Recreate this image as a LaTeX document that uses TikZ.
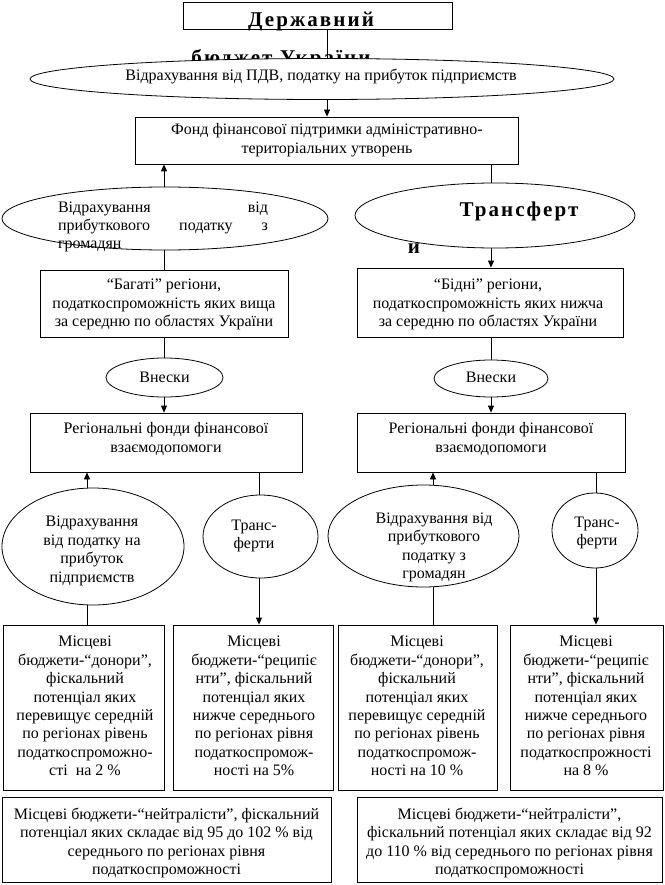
\documentclass[tikz,border=0pt]{standalone}
\usepackage{fontspec}
\setmainfont{Liberation Serif}
\newfontfamily\bigfont{Liberation Serif}[LetterSpace=10]
\usetikzlibrary{shapes.geometric,arrows.meta}
\tikzset{
  box/.style={draw, rectangle, inner sep=0pt, line width=0.8pt},
  oval/.style={draw, ellipse, inner sep=0pt, line width=0.8pt},
  txt/.style={inner sep=0pt, align=center, font=\fontsize{16}{18.4}\selectfont},
  big/.style={inner sep=0pt, font=\bigfont\fontsize{21}{24}\selectfont\bfseries},
  arr/.style={-{Triangle[length=7pt,width=6pt]}, line width=0.8pt},
  ln/.style={line width=0.8pt},
}
\begin{document}
\begin{tikzpicture}[x=1pt,y=-1pt]
\useasboundingbox (0,0) rectangle (664,885);
% top
\node[box, minimum width=269, minimum height=27] (tb) at (317.5,15.5) {};
\node[big, anchor=base] (tbt) at (311,27) {Державний};
\node[big, anchor=base] (tbt2) at (281,65) {бюджет України};
\node[oval, fill=white, minimum width=584, minimum height=41] (bigell) at (322,79) {};
\node[txt] (bigellt) at (321,77) {Відрахування від ПДВ, податку на прибуток підприємств};
\node[box, minimum width=383, minimum height=47] (fond) at (327,140.5) {};
\node[txt] (fondt) at (327,140) {Фонд фінансової підтримки адміністративно-\\територіальних утворень};
% second level
\node[txt, align=left, text width=210] (lelt) at (163,227) {Відрахування\hfill від\\прибуткового\hfill податку\hfill з\\громадян};
\node[oval, minimum width=326, minimum height=63] (lel) at (165,218.5) {};
\node[oval, minimum width=280, minimum height=65] (rel) at (495,215.5) {};
\node[big, anchor=base] (relt) at (519,217) {Трансферт};
\node[big, anchor=base] (relt2) at (414,253) {и};
\node[box, minimum width=248, minimum height=67] (bag) at (164,303.5) {};
\node[txt] (bagt) at (164,304.5) {“Багаті” регіони,\\податкоспроможність яких вища\\за середню по областях України};
\node[box, minimum width=266, minimum height=69] (bid) at (490,302.5) {};
\node[txt] (bidt) at (488,304.5) {“Бідні” регіони,\\податкоспроможність яких нижча\\за середню по областях України};
\node[oval, minimum width=117, minimum height=39] (vl) at (164.5,377.5) {};
\node[txt] (vlt) at (164.5,377) {Внески};
\node[oval, minimum width=114, minimum height=37] (vr) at (491,378.5) {};
\node[txt] (vrt) at (491,377) {Внески};
\node[box, minimum width=272, minimum height=59] (rgl) at (166,442.5) {};
\node[txt] (rglt) at (166,439) {Регіональні фонди фінансової\\взаємодопомоги};
\node[box, minimum width=268, minimum height=59] (rgr) at (491,442.5) {};
\node[txt] (rgrt) at (491,439) {Регіональні фонди фінансової\\взаємодопомоги};
% third level
\node[oval, minimum width=182, minimum height=117] (ebl) at (93,546.5) {};
\node[txt] (eblt) at (92,551) {Відрахування\\від податку на\\прибуток\\підприємств};
\node[oval, minimum width=115, minimum height=83] (trl) at (260.5,536.5) {};
\node[txt] (trlt) at (254,536) {Транс-\\ферти};
\node[oval, minimum width=191, minimum height=102] (ebr) at (423.5,536) {};
\node[txt] (ebrt) at (434,547.5) {Відрахування від\\прибуткового\\податку з\\громадян};
\node[oval, minimum width=86, minimum height=75] (trr) at (595,530.5) {};
\node[txt] (trrt) at (597,533) {Транс-\\ферти};
% bottom boxes
\node[box, minimum width=161, minimum height=165] (b1) at (83.5,707.5) {};
\node[txt] (b1t) at (85,706) {Місцеві\\бюджети-“донори”,\\фіскальний\\потенціал яких\\перевищує середній\\по регіонах рівень\\податкоспроможно-\\сті\ \ на 2 \%};
\node[box, minimum width=160, minimum height=165] (b2) at (253,707.5) {};
\node[txt] (b2t) at (254,706) {Місцеві\\бюджети-“реципіє\\нти”, фіскальний\\потенціал яких\\нижче середнього\\по регіонах рівня\\податкоспромож-\\ності на 5\%};
\node[box, minimum width=159, minimum height=165] (b3) at (417.5,707.5) {};
\node[txt] (b3t) at (417,706) {Місцеві\\бюджети-“донори”,\\фіскальний\\потенціал яких\\перевищує середній\\по регіонах рівень\\податкоспромож-\\ності на 10 \%};
\node[box, minimum width=153, minimum height=165] (b4) at (586.5,707.5) {};
\node[txt] (b4t) at (586,706) {Місцеві\\бюджети-“реципіє\\нти”, фіскальний\\потенціал яких\\нижче середнього\\по регіонах рівня\\податкоспрожності\\на 8 \%};
\node[box, minimum width=329, minimum height=85] (nl) at (166.5,839.5) {};
\node[txt] (nlt) at (166.5,843) {Місцеві бюджети-“нейтралісти”, фіскальний\\потенціал яких складає від 95 до 102 \% від\\середнього по регіонах рівня\\податкоспроможності};
\node[box, minimum width=305, minimum height=85] (nr) at (509.5,839.5) {};
\node[txt] (nrt) at (509.5,843) {Місцеві бюджети-“нейтралісти”,\\фіскальний потенціал яких складає від 92\\до 110 \% від середнього по регіонах рівня\\податкоспроможності};
% column coordinates
\coordinate (x327) at (327,0);
\coordinate (x164) at (164,0);
\coordinate (x491) at (491,0);
\coordinate (x87) at (87,0);
\coordinate (x259) at (259,0);
\coordinate (x433) at (433,0);
\coordinate (x596) at (596,0);
% connectors
\draw[ln] (tb.south -| x327) -- (bigell.north -| x327);
\draw[arr] (bigell.south -| x327) -- (fond.north -| x327);
\draw[arr] (lel.north -| x164) -- (fond.south -| x164);
\draw[ln] (fond.south -| x491) -- (rel.north -| x491);
\draw[ln] (lel.south -| x164) -- (bag.north -| x164);
\draw[arr] (rel.south -| x491) -- (bid.north -| x491);
\draw[ln] (bag.south -| x164) -- (vl.north -| x164);
\draw[arr] (vl.south -| x164) -- (rgl.north -| x164);
\draw[ln] (bid.south -| x491) -- (vr.north -| x491);
\draw[arr] (vr.south -| x491) -- (rgr.north -| x491);
\draw[arr] (ebl.north -| x87) -- (rgl.south -| x87);
\draw[ln] (rgl.south -| x259) -- (trl.north -| x259);
\draw[arr] (trl.south -| x259) -- (b2.north -| x259);
\draw[ln] (ebl.south -| x87) -- (b1.north -| x87);
\draw[arr] (ebr.north -| x433) -- (rgr.south -| x433);
\draw[ln] (rgr.south -| x596) -- (trr.north -| x596);
\draw[arr] (trr.south -| x596) -- (b4.north -| x596);
\draw[ln] (ebr.south -| x433) -- (b3.north -| x433);
\end{tikzpicture}
\end{document}
